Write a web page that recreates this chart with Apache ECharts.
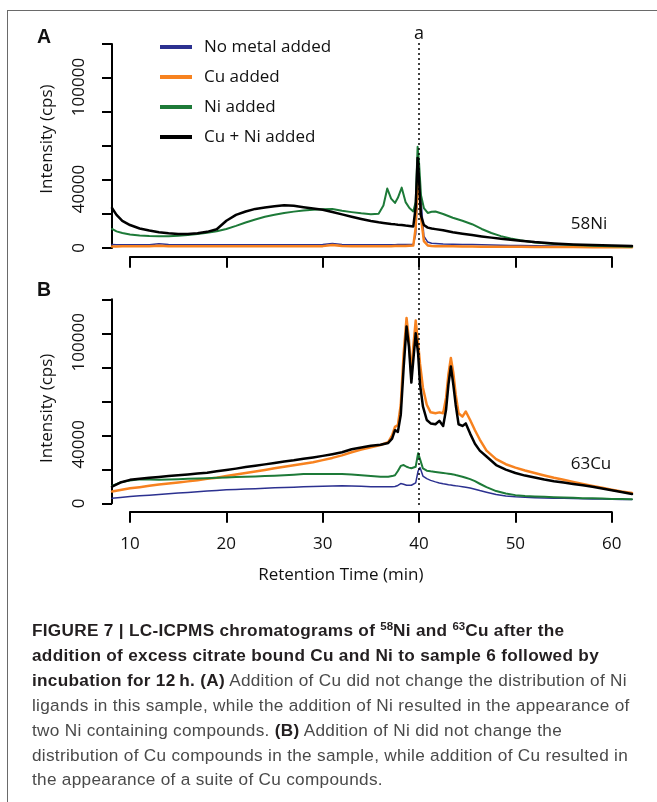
<!DOCTYPE html>
<html>
<head>
<meta charset="utf-8">
<script src="https://cdn.jsdelivr.net/npm/echarts@6/dist/echarts.min.js"></script>
<style>
html, body { margin: 0; padding: 0; background: #fff; }
#frame { position: absolute; left: 7px; top: 10px; width: 700px; height: 820px;
  border-left: 1.5px solid #6a6a6a; border-top: 1.5px solid #6a6a6a; }
#chart { position: absolute; left: 0; top: 0; width: 657px; height: 802px; }
#caption { position: absolute; left: 32px; top: 618px; white-space: nowrap;
  font-family: 'Liberation Sans', Arial, sans-serif; font-size: 17.2px; letter-spacing: 0.3px;
  line-height: 24.9px; color: #4a4a4a; }
#caption b { color: #231f20; }
#caption sup { font-size: 11.5px; line-height: 0; vertical-align: baseline; position: relative; top: -6.5px; letter-spacing: 0; }
</style>
</head>
<body>
<div id="frame"></div>
<div id="chart"></div>
<div id="caption">
<b>FIGURE 7 | LC-ICPMS chromatograms of <sup>58</sup>Ni and <sup>63</sup>Cu after the</b><br>
<b>addition of excess citrate bound Cu and Ni to sample 6 followed by</b><br>
<b>incubation for 12&#8201;h. (A)</b> Addition of Cu did not change the distribution of Ni<br>
ligands in this sample, while the addition of Ni resulted in the appearance of<br>
two Ni containing compounds. <b>(B)</b> Addition of Ni did not change the<br>
distribution of Cu compounds in the sample, while addition of Cu resulted in<br>
the appearance of a suite of Cu compounds.
</div>
<script>
// 58Ni panel (A): retention time (min) and intensity (cps)
var timeA = [8.13, 8.6, 9.2, 10, 11, 12, 13, 14, 15, 16,
	17, 18, 19, 20, 21, 22, 23, 24, 25, 26,
	27, 28, 29, 30, 31, 32, 33, 34, 35, 35.8,
	36.3, 36.7, 37.1, 37.5, 37.8, 38.2, 38.6, 39, 39.4, 39.65,
	39.85, 40, 40.2, 40.5, 40.9, 41.3, 41.7, 42.5, 43.5, 44.5,
	45.5, 46.5, 47.5, 48.5, 49.5, 50.5, 52, 54, 56, 58,
	60, 62.1];
var noMetalA = [2000, 1900, 1900, 1900, 1900, 1900, 2500, 2000, 1900, 1900,
	1900, 1900, 1900, 1900, 1900, 1900, 1900, 1900, 1900, 1900,
	1900, 1900, 1900, 2000, 2600, 2000, 1900, 1900, 1900, 1900,
	1900, 1900, 1900, 1900, 2000, 2000, 2000, 2000, 2100, 8000,
	33000, 42000, 28000, 7000, 3500, 2800, 2600, 2300, 2200, 2100,
	2000, 1900, 1700, 1600, 1500, 1400, 1300, 1200, 1100, 1000,
	900, 800];
var cuA = [900, 900, 1000, 1000, 1000, 1000, 1300, 1100, 1000, 1000,
	1000, 1000, 1000, 1000, 1000, 1000, 1000, 1000, 1000, 1000,
	1000, 1000, 1000, 1100, 1800, 1200, 1100, 1100, 1100, 1100,
	1100, 1100, 1100, 1200, 1200, 1200, 1200, 1300, 1400, 12000,
	42000, 35000, 18000, 4000, 1500, 1200, 1100, 1000, 1000, 900,
	900, 800, 800, 700, 700, 700, 600, 600, 600, 500,
	500, 500];
var niA = [11200, 9800, 8800, 7900, 7300, 7000, 6900, 6900, 7200, 7700,
	8300, 9000, 9900, 11200, 13000, 15000, 16800, 18400, 19600, 20600,
	21400, 22000, 22500, 22800, 23000, 21900, 21100, 20400, 19900, 20200,
	25000, 35000, 29000, 26500, 29500, 35500, 27000, 23500, 21500, 27000,
	59500, 50000, 31000, 23500, 20600, 21300, 21500, 20000, 17800, 16000,
	14000, 11200, 8800, 7000, 5600, 4500, 3300, 2300, 1700, 1300,
	1000, 800];
var cuNiA = [23500, 19500, 16000, 13500, 11500, 10300, 9300, 8700, 8300, 8200,
	8700, 9500, 11000, 16000, 19500, 21500, 23000, 23800, 24500, 25200,
	24800, 24000, 23200, 22500, 21200, 19800, 18400, 17100, 15900, 15100,
	14700, 14400, 14100, 13900, 13700, 13500, 13200, 13000, 12700, 24000,
	53000, 40000, 19000, 13500, 12000, 11500, 11100, 10400, 9300, 8400,
	7600, 6800, 6100, 5500, 4900, 4300, 3500, 2700, 2100, 1700,
	1500, 1200];

// 63Cu panel (B)
var timeB = [8.13, 9, 10, 11, 12, 13, 14, 15, 16, 17,
	18, 19, 20, 21, 22, 23, 24, 25, 26, 27,
	28, 29, 30, 31, 32, 33, 34, 35, 36, 36.8,
	37.2, 37.5, 37.8, 38.1, 38.4, 38.7, 38.95, 39.2, 39.4, 39.65,
	39.9, 40.1, 40.4, 40.8, 41.2, 41.7, 42.1, 42.5, 42.8, 43.05,
	43.3, 43.55, 43.8, 44.1, 44.5, 44.85, 45.3, 45.8, 46.3, 47,
	48, 49, 50, 51, 52, 53, 54, 55, 56, 57,
	58, 59, 60, 61, 62.1];
var noMetalB = [2900, 3400, 4000, 4400, 4800, 5200, 5600, 6000, 6400, 6800,
	7200, 7600, 7900, 8100, 8400, 8600, 8900, 9100, 9300, 9500,
	9800, 9900, 10100, 10200, 10300, 10200, 10000, 9800, 9800, 9800,
	9800, 9900, 10500, 11600, 11200, 10600, 10600, 10600, 10800, 12000,
	19000, 21000, 16000, 14500, 13500, 12600, 12000, 11500, 11200, 10900,
	10700, 10500, 10300, 10100, 9800, 9500, 9000, 8300, 7500, 6500,
	5200, 4300, 3800, 3500, 3300, 3100, 3000, 2900, 2800, 2700,
	2600, 2500, 2400, 2300, 2200];
var cuB = [6900, 7800, 8800, 9500, 10300, 11000, 11700, 12300, 12900, 13600,
	14400, 15000, 16000, 16900, 17800, 18700, 19600, 20600, 21500, 22400,
	23300, 24200, 25400, 26700, 28200, 30000, 31600, 33000, 34300, 36000,
	40000, 45000, 46000, 58000, 88000, 109000, 96000, 75000, 92000, 107500,
	94000, 82000, 68000, 58000, 53500, 53000, 53500, 53000, 62000, 76000,
	85500, 77000, 64000, 53000, 51000, 54000, 49000, 43000, 37500, 31000,
	26000, 23000, 21000, 19300, 17800, 16400, 15000, 13800, 12600, 11400,
	10200, 9100, 8000, 7000, 6100];
var niB = [10200, 12300, 13400, 14100, 14000, 13900, 14000, 14200, 14400, 14600,
	14800, 15000, 15200, 15400, 15600, 15800, 16000, 16200, 16500, 16800,
	17200, 17300, 17200, 17200, 17300, 17000, 16500, 16000, 15600, 15600,
	16000, 16500, 19000, 22000, 22500, 21500, 21000, 20600, 20200, 21500,
	29500, 26000, 20500, 19200, 18800, 18400, 18100, 17800, 17600, 17400,
	17200, 17000, 16600, 16200, 15600, 15000, 14200, 13000, 11500, 9500,
	7200, 5800, 4800, 4300, 4000, 3800, 3600, 3400, 3200, 3000,
	2900, 2800, 2600, 2500, 2400];
var cuNiB = [9800, 12200, 13800, 14400, 15000, 15500, 16000, 16500, 17000, 17500,
	18000, 18800, 19600, 20400, 21300, 22100, 22900, 23700, 24600, 25300,
	26200, 27000, 27900, 28900, 30000, 31800, 32800, 33800, 34400, 35500,
	38000, 43000, 42000, 52000, 80000, 104000, 92000, 71000, 84000, 100000,
	88000, 70000, 57000, 49000, 47000, 46500, 48500, 45500, 55000, 70000,
	80500, 70000, 58000, 46500, 45500, 47000, 41000, 35000, 31000, 27500,
	22500, 19800, 17800, 16300, 15200, 14000, 13000, 12200, 11400, 10600,
	9700, 8700, 7700, 6600, 5500];

var seriesNames = ['No metal added', 'Cu added', 'Ni added', 'Cu + Ni added'];
var seriesColors = ['#2c3190', '#f7821f', '#1d7a38', '#000000'];
var seriesWidths = [1.5, 2.5, 2, 2.5];
var shownYLabels = [0, 40000, 100000];
var markTime = 40;

var FONT = "'Open Sans', 'Noto Sans', sans-serif";
var timeMin = 8.13, timeMax = 62.1;

function pairs(t, v) {
	var out = [];
	for (var i = 0; i < t.length; i++) out.push([t[i], v[i]]);
	return out;
}

function dataAxisX(gi) {
	return { type: 'value', gridIndex: gi, min: timeMin, max: timeMax, show: false };
}

function tickAxisX(gi, withLabels) {
	var ax = {
		type: 'value', gridIndex: gi, min: 10, max: 60, interval: 10, position: 'bottom',
		axisLine: { show: true, onZero: false, lineStyle: { color: '#000', width: 2 } },
		axisTick: { show: true, length: 11, lineStyle: { color: '#000', width: 2 } },
		axisLabel: { show: withLabels, margin: 24, fontFamily: FONT, fontSize: 17, color: '#111' },
		splitLine: { show: false }
	};
	if (withLabels) {
		ax.name = 'Retention Time (min)';
		ax.nameLocation = 'middle';
		ax.nameGap = 55;
		ax.nameTextStyle = { fontFamily: FONT, fontSize: 17, color: '#111', padding: [0, 60, 0, 0] };
	}
	return ax;
}

function intensityAxis(gi, namePad) {
	return {
		type: 'value', gridIndex: gi, min: 0, max: 120000, interval: 20000,
		name: 'Intensity (cps)', nameLocation: 'middle', nameGap: 56,
		nameTextStyle: { fontFamily: FONT, fontSize: 17, color: '#111', padding: namePad },
		axisLine: { show: true, lineStyle: { color: '#000', width: 2 } },
		axisTick: { show: true, length: 10, lineStyle: { color: '#000', width: 2 } },
		axisLabel: {
			rotate: 90, margin: 24, fontFamily: FONT, fontSize: 17, color: '#111',
			formatter: function (v) {
				if (shownYLabels.indexOf(v) < 0) return '';
				return v === 0 ? '{z|0}' : '{s|' + v + '}';
			},
			rich: {
				z: { fontFamily: FONT, fontSize: 17, color: '#111' },
				s: { fontFamily: FONT, fontSize: 17, color: '#111', padding: [0, 18, 0, 0] }
			}
		},
		splitLine: { show: false }
	};
}

function hiddenAxisY(gi) {
	return { type: 'value', gridIndex: gi, min: 0, max: 1, show: false };
}

function panelSeries(gi, t, lists) {
	return lists.map(function (vals, i) {
		return {
			name: seriesNames[i], type: 'line', xAxisIndex: gi, yAxisIndex: gi,
			data: pairs(t, vals), showSymbol: false, symbol: 'none', silent: true,
			color: seriesColors[i],
			lineStyle: { color: seriesColors[i], width: seriesWidths[i], cap: 'round', join: 'round' }
		};
	});
}

var chart = echarts.init(document.getElementById('chart'));
var option = {
	animation: false,
	grid: [
		{ left: 112, top: 44, width: 520, height: 204 },
		{ left: 130, top: 250, width: 481.7, height: 6.7 },
		{ left: 112, top: 299.3, width: 520, height: 204 },
		{ left: 130, top: 505, width: 481.7, height: 6.7 },
		{ left: 112, top: 42, width: 520, height: 463 }
	],
	xAxis: [dataAxisX(0), tickAxisX(1, false), dataAxisX(2), tickAxisX(3, true), dataAxisX(4)],
	yAxis: [intensityAxis(0, [0, 0, 0, 14]), hiddenAxisY(1), intensityAxis(2, [0, 14, 0, 0]), hiddenAxisY(3), hiddenAxisY(4)],
	legend: {
		data: seriesNames, orient: 'vertical', left: 160, top: 37, padding: 0,
		itemWidth: 32, itemHeight: 4, itemGap: 10, icon: 'rect', selectedMode: false,
		textStyle: { fontFamily: FONT, fontSize: 17, color: '#111', lineHeight: 20, padding: [0, 0, 0, 7] }
	},
	graphic: [
		{ type: 'text', left: 37, top: 28, style: { text: 'A', font: "bold 19.5px 'Liberation Sans', Arial, sans-serif", fill: '#111' } },
		{ type: 'text', left: 37, top: 281, style: { text: 'B', font: "bold 19.5px 'Liberation Sans', Arial, sans-serif", fill: '#111' } },
		{ type: 'text', x: 589, y: 224.5, style: { text: '58Ni', font: "17px 'Open Sans', sans-serif", fill: '#111', align: 'center', verticalAlign: 'middle' } },
		{ type: 'text', x: 591, y: 463.7, style: { text: '63Cu', font: "17px 'Open Sans', sans-serif", fill: '#111', align: 'center', verticalAlign: 'middle' } }
	],
	series: panelSeries(0, timeA, [noMetalA, cuA, niA, cuNiA])
		.concat(panelSeries(2, timeB, [noMetalB, cuB, niB, cuNiB]))
		.concat([{
			type: 'line', xAxisIndex: 4, yAxisIndex: 4, data: [], silent: true,
			markLine: {
				symbol: ['none', 'none'], silent: true, animation: false,
				lineStyle: { color: '#000', type: [2, 3], width: 1.5 },
				label: { show: true, position: 'end', formatter: 'a', distance: -1, fontFamily: FONT, fontSize: 18, color: '#111' },
				data: [{ xAxis: markTime }]
			}
		}])
};
chart.setOption(option);
</script>
</body>
</html>
